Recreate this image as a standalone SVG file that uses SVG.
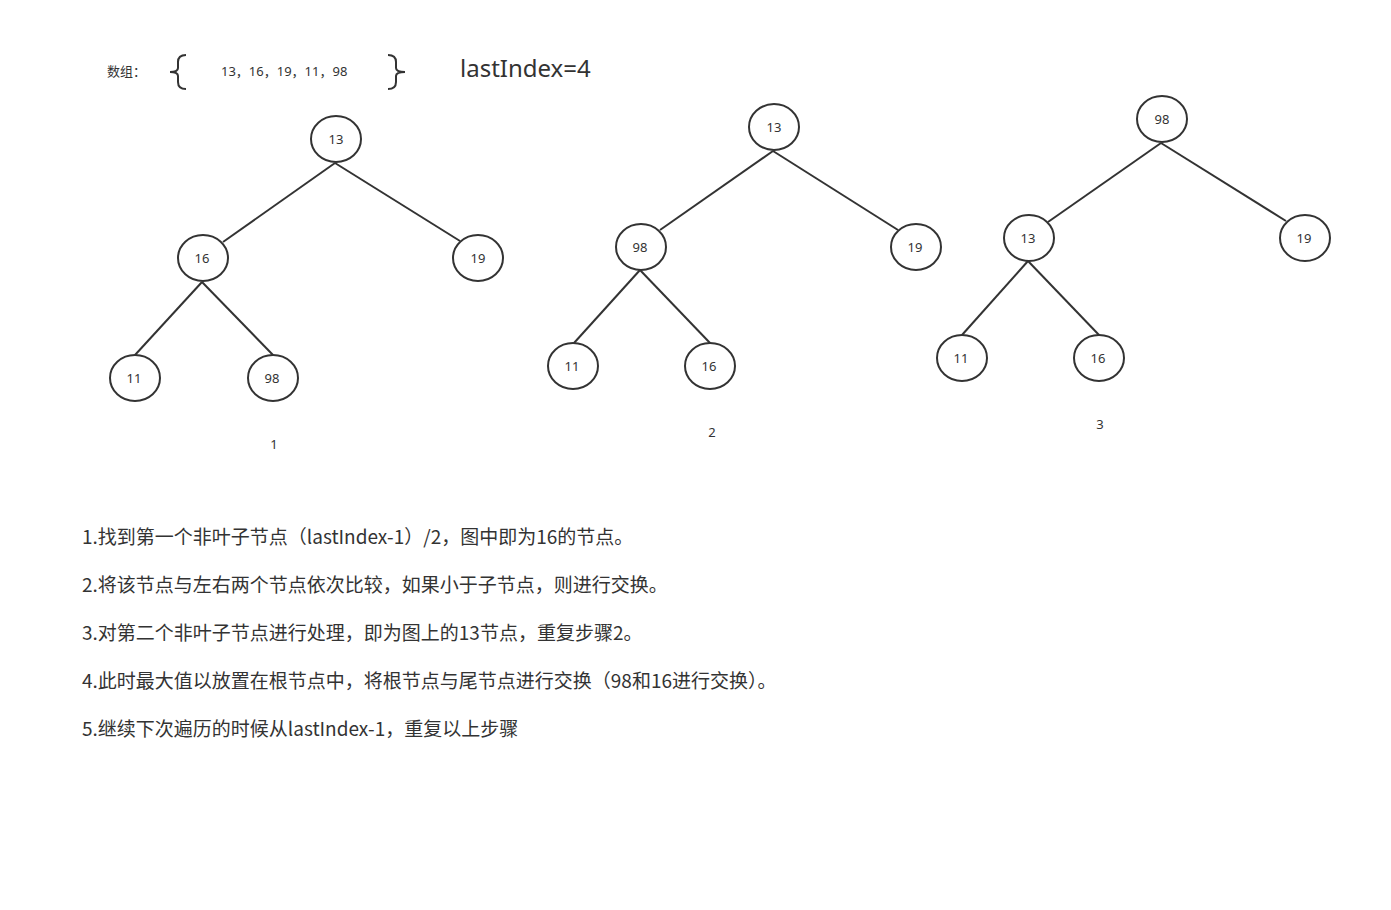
<svg xmlns="http://www.w3.org/2000/svg" width="1391" height="910" viewBox="0 0 1391 910">
<style>
.n ellipse{fill:#fff;stroke:#333;stroke-width:2}
.n text,.lbl{font-family:"Noto Sans","Noto Sans CJK SC",sans-serif;font-size:13px;fill:#333;text-anchor:middle}
.e line{stroke:#333;stroke-width:2}
.br{fill:none;stroke:#333;stroke-width:2}
.t{font-family:"Noto Sans CJK SC","Noto Sans",sans-serif;font-size:19px;fill:#333}
</style>
<rect width="1391" height="910" fill="#fff"/>
<g id="header">
<text x="107" y="76" class="t" style="font-size:13px">数组：</text>
<path class="br" d="M186,55 Q178,55 178,62 L178,68 Q178,72 170,72 Q178,72 178,76 L178,82 Q178,89 186,89"/>
<text x="221" y="76" class="t" style="font-size:13px;font-family:'Noto Sans','Noto Sans CJK SC',sans-serif">13，16，19，11，98</text>
<path class="br" d="M388,55 Q396,55 396,62 L396,68 Q396,72 405,72 Q396,72 396,76 L396,82 Q396,89 388,89"/>
<text x="460" y="77" class="t" style="font-size:24px;font-family:'Noto Sans',sans-serif">lastIndex=4</text>
</g>
<g id="connectors" class="e">
<line x1="335" y1="163" x2="223" y2="242"/>
<line x1="335" y1="163" x2="460" y2="241"/>
<line x1="202" y1="282" x2="135" y2="355"/>
<line x1="202" y1="282" x2="273" y2="355"/>
<line x1="773" y1="151" x2="660" y2="230"/>
<line x1="773" y1="151" x2="898" y2="230"/>
<line x1="640" y1="270" x2="574" y2="343"/>
<line x1="640" y1="270" x2="710" y2="343"/>
<line x1="1161" y1="143" x2="1048" y2="222"/>
<line x1="1161" y1="143" x2="1286" y2="221"/>
<line x1="1028" y1="261" x2="962" y2="335"/>
<line x1="1028" y1="261" x2="1099" y2="335"/>
</g>
<g id="t1-13" class="n"><ellipse cx="336" cy="139" rx="25" ry="23"/><text x="336" y="144">13</text></g>
<g id="t1-16" class="n"><ellipse cx="203" cy="258" rx="25" ry="23"/><text x="202" y="263">16</text></g>
<g id="t1-19" class="n"><ellipse cx="478" cy="258" rx="25" ry="23"/><text x="478" y="263">19</text></g>
<g id="t1-11" class="n"><ellipse cx="135" cy="378" rx="25" ry="23"/><text x="134" y="383">11</text></g>
<g id="t1-98" class="n"><ellipse cx="273" cy="378" rx="25" ry="23"/><text x="272" y="383">98</text></g>
<text class="lbl" x="274" y="449">1</text>
<g id="t2-13" class="n"><ellipse cx="774" cy="127" rx="25" ry="23"/><text x="774" y="132">13</text></g>
<g id="t2-98" class="n"><ellipse cx="641" cy="247" rx="25" ry="23"/><text x="640" y="252">98</text></g>
<g id="t2-19" class="n"><ellipse cx="916" cy="247" rx="25" ry="23"/><text x="915" y="252">19</text></g>
<g id="t2-11" class="n"><ellipse cx="573" cy="366" rx="25" ry="23"/><text x="572" y="371">11</text></g>
<g id="t2-16" class="n"><ellipse cx="710" cy="366" rx="25" ry="23"/><text x="709" y="371">16</text></g>
<text class="lbl" x="712" y="437">2</text>
<g id="t3-98" class="n"><ellipse cx="1162" cy="119" rx="25" ry="23"/><text x="1162" y="124">98</text></g>
<g id="t3-13" class="n"><ellipse cx="1029" cy="238" rx="25" ry="23"/><text x="1028" y="243">13</text></g>
<g id="t3-19" class="n"><ellipse cx="1305" cy="238" rx="25" ry="23"/><text x="1304" y="243">19</text></g>
<g id="t3-11" class="n"><ellipse cx="962" cy="358" rx="25" ry="23"/><text x="961" y="363">11</text></g>
<g id="t3-16" class="n"><ellipse cx="1099" cy="358" rx="25" ry="23"/><text x="1098" y="363">16</text></g>
<text class="lbl" x="1100" y="429">3</text>
<g id="notes">
<text class="t" x="82" y="544">1.找到第一个非叶子节点（lastIndex-1）/2，图中即为16的节点。</text>
<text class="t" x="82" y="592">2.将该节点与左右两个节点依次比较，如果小于子节点，则进行交换。</text>
<text class="t" x="82" y="640">3.对第二个非叶子节点进行处理，即为图上的13节点，重复步骤2。</text>
<text class="t" x="82" y="688">4.此时最大值以放置在根节点中，将根节点与尾节点进行交换（98和16进行交换）。</text>
<text class="t" x="82" y="736">5.继续下次遍历的时候从lastIndex-1，重复以上步骤</text>
</g>
</svg>
